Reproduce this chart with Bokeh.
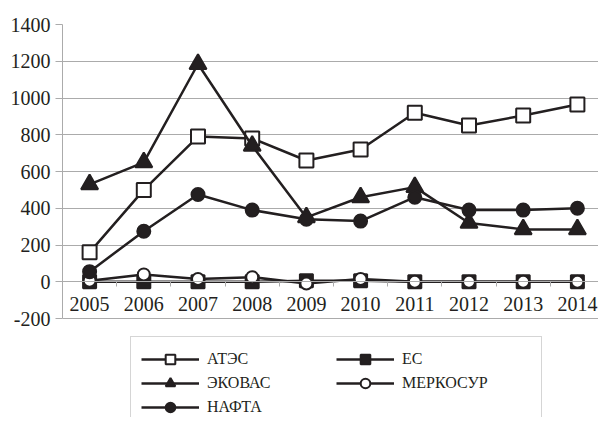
from bokeh.plotting import figure
from bokeh.models import FixedTicker, Legend, LegendItem, Range1d
from bokeh.embed import file_html
from bokeh.resources import INLINE

years = [2005, 2006, 2007, 2008, 2009, 2010, 2011, 2012, 2013, 2014]
ates = [160, 500, 790, 780, 660, 720, 920, 850, 905, 965]
es = [0, 0, 0, 0, 5, 5, 0, 0, 0, 0]
ecowas = [530, 650, 1185, 740, 350, 460, 515, 320, 285, 285]
mercosur = [5, 40, 15, 25, -10, 15, 0, 0, 0, 0]
nafta = [55, 275, 475, 390, 340, 330, 460, 390, 390, 400]
y_ticks = [-200, 0, 200, 400, 600, 800, 1000, 1200, 1400]

INK = "#231f20"
GRID = "#ababab"
FONT = "'Liberation Serif', 'Times New Roman', serif"
LFONT = "'Liberation Serif', 'DejaVu Serif', serif"

W, H = 598, 417
FL, FT = 62, 24          # frame left / top
PX_PER_UNIT = 294 / 1600.0
frame_h = H - FT
y_start = 1400 - frame_h / PX_PER_UNIT
x_end = 2004.5 + (W - FL) / 54.2

p = figure(width=W, height=H, output_backend="svg", toolbar_location=None,
           x_range=Range1d(2004.5, x_end), y_range=Range1d(y_start, 1400),
           min_border_left=FL, min_border_right=0, min_border_top=FT,
           min_border_bottom=0)
p.outline_line_color = None
p.xgrid.grid_line_color = None
p.ygrid.grid_line_color = GRID
p.ygrid.ticker = FixedTicker(ticks=y_ticks)

p.yaxis.ticker = FixedTicker(ticks=y_ticks, minor_ticks=[])
p.yaxis.bounds = (-200, 1400)
p.yaxis.axis_line_color = GRID
p.yaxis.major_tick_line_color = GRID
p.yaxis.major_tick_out = 7
p.yaxis.major_tick_in = 0
p.yaxis.minor_tick_line_color = None
p.yaxis.major_label_standoff = 5
p.yaxis.major_label_text_font = FONT
p.yaxis.major_label_text_font_size = "20px"
p.yaxis.major_label_text_color = INK
p.yaxis.major_label_overrides = {-200: "-200"}

p.xaxis.ticker = FixedTicker(ticks=years, minor_ticks=[2004.5 + i for i in range(11)])
p.xaxis.fixed_location = 0
p.xaxis.axis_line_color = GRID
p.xaxis.major_tick_line_color = None
p.xaxis.minor_tick_line_color = GRID
p.xaxis.minor_tick_out = 5
p.xaxis.minor_tick_in = 0
p.xaxis.major_label_standoff = 9
p.xaxis.major_label_text_font = FONT
p.xaxis.major_label_text_font_size = "20px"
p.xaxis.major_label_text_color = INK

def series(vals, marker, size, fill):
    ln = p.line(years, vals, line_color=INK, line_width=2.5)
    sc = p.scatter(years, vals, marker=marker, size=size, fill_color=fill,
                   line_color=INK, line_width=2)
    return [ln, sc]

r_ates = series(ates, "square", 14, "white")
r_es = series(es, "square", 13, INK)
r_ecowas = series(ecowas, "triangle", 17, INK)
r_mercosur = series(mercosur, "circle", 12, "white")
r_nafta = series(nafta, "circle", 13, INK)

items = [
    LegendItem(label="АТЭС", renderers=r_ates),
    LegendItem(label="ЭКОВАС", renderers=r_ecowas),
    LegendItem(label="НАФТА", renderers=r_nafta),
    LegendItem(label="ЕС", renderers=r_es),
    LegendItem(label="МЕРКОСУР", renderers=r_mercosur),
]
legend = Legend(items=items, location=(68, -13), nrows=3,
                glyph_width=58, glyph_height=24, spacing=0, padding=10,
                label_standoff=8, label_width=129,
                label_text_font=LFONT, label_text_font_size="16px",
                label_text_color=INK, border_line_color=GRID,
                border_line_width=1, background_fill_color="white",
                background_fill_alpha=1)
p.add_layout(legend, "center")

open("out.html", "w").write(file_html(p, INLINE))
